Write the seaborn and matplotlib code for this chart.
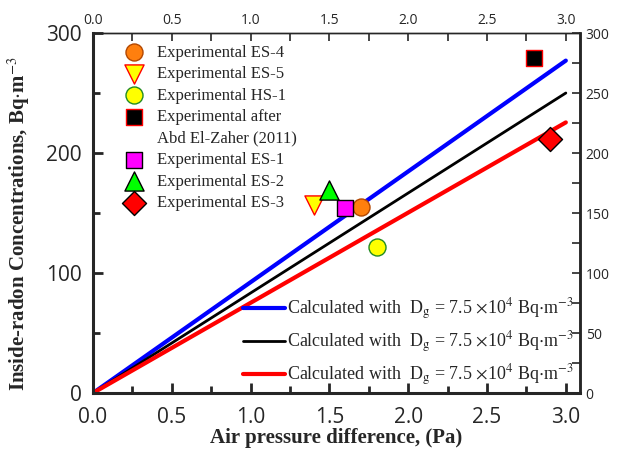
import numpy as np
import pandas as pd
import matplotlib
matplotlib.use('Agg')
import matplotlib.pyplot as plt
from matplotlib.ticker import MultipleLocator
from matplotlib.lines import Line2D
import seaborn as sb

sb.set_style('ticks')
plt.rcParams['font.family'] = ['Open Sans', 'DejaVu Sans']
plt.rcParams['mathtext.fontset'] = 'stix'

# Experimental points
pointLabels = ['Experimental ES-4', 'Experimental ES-5', 'Experimental HS-1',
               'Experimental after', 'Experimental ES-1',
               'Experimental ES-2', 'Experimental ES-3']
pointX = [1.70, 1.40, 1.80, 2.80, 1.60, 1.50, 2.90]
pointY = [155, 157, 122, 279, 154, 169, 212]
pointFace = ['#ff7f0e', '#ffff00', '#ffff00', '#000000', '#ff00ff', '#00ff00', '#ff0000']
pointEdge = ['#b34700', '#ff0000', '#228b22', '#ff0000', '#000000', '#000000', '#000000']
pointMarker = ['o', 'v', 'o', 's', 's', '^', 'D']
pointSize = [150, 190, 150, 130, 120, 190, 150]
citeLine = 'Abd El-Zaher (2011)'

# Calculated lines
lineX = [0.0, 3.0]
blueY = [0.0, 277.0]
blackY = [0.0, 250.0]
redY = [0.0, 225.5]
lineLabel = r'Calculated with  D$_\mathrm{g}$ = 7.5 $\times$10$^4$ Bq$\cdot$m$^{-3}$'

fig = plt.figure(figsize=(6.22, 4.49), dpi=100)
ax = fig.add_axes([0.1495, 0.1247, 0.7830, 0.8018])

lineHandles = []
for ys, col, lw in [(blueY, '#0000ff', 3.0), (blackY, '#000000', 2.0), (redY, '#ff0000', 3.0)]:
    sb.lineplot(x=lineX, y=ys, color=col, linewidth=lw, ax=ax)
    lineHandles.append(ax.lines[-1])

pointHandles = []
for i in range(len(pointX)):
    sb.scatterplot(x=[pointX[i]], y=[pointY[i]], marker=pointMarker[i], s=pointSize[i],
                   color=pointFace[i], edgecolor=pointEdge[i], linewidth=1.0, ax=ax, zorder=5)
    pointHandles.append(ax.collections[-1])

ax.set_xlim(0, 3.09)
ax.set_ylim(0, 300)
ax.xaxis.set_major_locator(MultipleLocator(0.5))
ax.xaxis.set_minor_locator(MultipleLocator(0.25))
ax.yaxis.set_major_locator(MultipleLocator(100))
ax.yaxis.set_minor_locator(MultipleLocator(50))
ax.xaxis.set_major_formatter(lambda v, p: f'{v:.1f}')
ax.tick_params(which='both', direction='in', width=2, labelsize=15)
ax.tick_params(axis='x', pad=10)
ax.tick_params(axis='y', pad=8)
ax.tick_params(which='major', length=7)
ax.tick_params(which='minor', length=5)
for side in ['left', 'bottom']:
    ax.spines[side].set_linewidth(2.2)
ax.spines['top'].set_linewidth(1.0)
ax.spines['right'].set_linewidth(1.8)

# top and right axes
top = ax.secondary_xaxis('top')
top.xaxis.set_major_locator(MultipleLocator(0.5))
top.xaxis.set_minor_locator(MultipleLocator(0.25))
top.xaxis.set_major_formatter(lambda v, p: f'{v:.1f}')
top.tick_params(which='both', direction='in', labelsize=10, width=1.2, length=6)
top.spines['top'].set_linewidth(1.0)

right = ax.secondary_yaxis('right')
right.yaxis.set_major_locator(MultipleLocator(50))
right.yaxis.set_minor_locator(MultipleLocator(25))
right.tick_params(which='both', direction='in', labelsize=10, width=1.2, length=6, pad=4)
right.spines['right'].set_linewidth(1.8)

ax.set_xlabel('Air pressure difference, (Pa)', family='Liberation Serif', fontweight='bold',
              fontsize=15, labelpad=0)
ax.set_ylabel(r'Inside-radon Concentrations, Bq$\cdot$m$^{-3}$', family='Liberation Serif',
              fontweight='bold', fontsize=15)
ax.yaxis.set_label_coords(-0.125, 0.47)

# marker legend, with a blank row for the second line of the citation
blank = Line2D([], [], linestyle='none', marker=None)
legHandles = pointHandles[:4] + [blank] + pointHandles[4:]
legLabels = pointLabels[:4] + [citeLine] + pointLabels[4:]
leg1 = ax.legend(legHandles, legLabels, loc='upper left', bbox_to_anchor=(0.03, 0.995),
                 frameon=False, prop={'family': 'Liberation Serif', 'size': 12},
                 handletextpad=0.35, labelspacing=0.33, borderaxespad=0.2, markerscale=1.0)
ax.add_artist(leg1)
ax.legend(lineHandles, [lineLabel] * 3, loc='lower right', bbox_to_anchor=(1.01, -0.016),
          frameon=False, prop={'family': 'Liberation Serif', 'size': 13},
          handlelength=2.3, handletextpad=0.15, labelspacing=0.4, borderaxespad=0.2)

fig.savefig('out.png', dpi=100)
